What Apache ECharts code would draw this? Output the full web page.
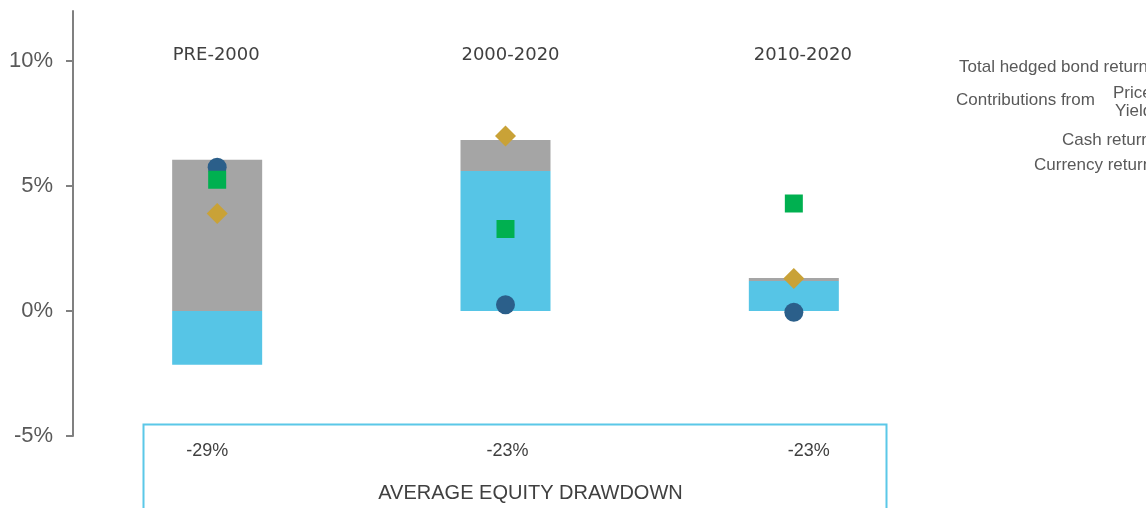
<!DOCTYPE html>
<html>
<head>
<meta charset="utf-8">
<script src="https://cdn.jsdelivr.net/npm/echarts@6/dist/echarts.min.js"></script>
<style>
  html, body { margin: 0; padding: 0; background: #fff; }
  #chart { width: 1146px; height: 508px; }
</style>
</head>
<body>
<div id="chart"></div>
<script>
// periods and equity drawdowns
var periods = ['PRE-2000', '2000-2020', '2010-2020'];
var drawdowns = ['-29%', '-23%', '-23%'];

// contributions, in %
var priceReturn = [-2.15, 5.6, 1.2];
var yieldReturn = [6.05, 1.24, 0.12];
var totalHedged = [3.9, 7.0, 1.3];
var cashReturn = [5.75, 0.25, -0.05];
var currencyReturn = [5.25, 3.28, 4.3];

var yTicks = [-5, 0, 5, 10];

var textGrey = '#595959';
var font = 'Liberation Sans, Arial, sans-serif';

// small nudges so the labels sit where the original has them
var periodPad = [[0, 2, 0, 0], [0, 0, 0, 10], [0, 0, 0, 18]];
var drawdownPad = [[0, 20, 0, 0], [0, 0, 0, 4], [0, 0, 0, 30]];

var chart = echarts.init(document.getElementById('chart'));

function legendItem(name, left, top) {
    return {
        data: [name],
        left: left,
        top: top,
        padding: 0,
        align: 'right',
        itemWidth: 16,
        itemHeight: 16,
        itemGap: 10,
        selectedMode: false,
        textStyle: {color: textGrey, fontSize: 17, fontFamily: font}
    };
}

chart.setOption({
    animation: false,
    grid: {left: 73, right: 208, top: 11, bottom: 72},
    legend: [
        legendItem('Total hedged bond return', 959, 59),
        legendItem('Price', 1113, 85),
        legendItem('Yield', 1115, 103),
        legendItem('Cash return', 1062, 132),
        legendItem('Currency return', 1034, 157)
    ],
    xAxis: [{
        type: 'category',
        data: periods.map(function (p, i) {
            return {value: p, textStyle: {padding: periodPad[i]}};
        }),
        position: 'top',
        offset: -61,
        axisLine: {show: false},
        axisTick: {show: false},
        axisLabel: {margin: 8, color: '#404040', fontSize: 18, fontFamily: 'DejaVu Sans, sans-serif'}
    }, {
        type: 'category',
        data: drawdowns.map(function (d, i) {
            return {value: d, textStyle: {padding: drawdownPad[i]}};
        }),
        position: 'bottom',
        axisLine: {show: false},
        axisTick: {show: false},
        axisLabel: {margin: 6, color: '#404040', fontSize: 18, fontFamily: font},
        name: 'AVERAGE EQUITY DRAWDOWN',
        nameLocation: 'middle',
        nameGap: 47,
        nameTextStyle: {color: '#404040', fontSize: 20, fontFamily: font, padding: [0, 0, 0, 50]}
    }],
    yAxis: {
        type: 'value',
        min: -5,
        max: 12,
        interval: 5,
        axisLine: {show: true, lineStyle: {color: '#808080', width: 2}},
        axisTick: {show: true, length: 7, customValues: yTicks, lineStyle: {color: '#808080', width: 2}},
        axisLabel: {
            customValues: yTicks,
            margin: 20,
            color: textGrey,
            fontSize: 22,
            fontFamily: font,
            formatter: function (v) { return v + '%'; }
        },
        splitLine: {show: false}
    },
    graphic: [{
        type: 'text',
        left: 956,
        top: 92,
        style: {text: 'Contributions from', fill: textGrey, fontSize: 17, fontFamily: font}
    }, {
        type: 'rect',
        left: 141,
        top: 422,
        shape: {width: 743, height: 110},
        style: {fill: 'none', stroke: '#5BC8E8', lineWidth: 2}
    }],
    series: [{
        name: 'Price',
        type: 'bar',
        stack: 'contrib',
        barWidth: 90,
        data: priceReturn,
        itemStyle: {color: '#56C5E6'}
    }, {
        name: 'Yield',
        type: 'bar',
        stack: 'contrib',
        barWidth: 90,
        data: yieldReturn,
        itemStyle: {color: '#A5A5A5'}
    }, {
        name: 'Cash return',
        type: 'scatter',
        symbol: 'circle',
        symbolSize: 19,
        data: cashReturn,
        itemStyle: {color: '#2B5F8A', opacity: 1}
    }, {
        name: 'Currency return',
        type: 'scatter',
        symbol: 'rect',
        symbolSize: 18,
        data: currencyReturn,
        itemStyle: {color: '#00B050', opacity: 1}
    }, {
        name: 'Total hedged bond return',
        type: 'scatter',
        symbol: 'diamond',
        symbolSize: [21, 21],
        data: totalHedged,
        itemStyle: {color: '#C9A237', opacity: 1}
    }]
});
</script>
</body>
</html>
